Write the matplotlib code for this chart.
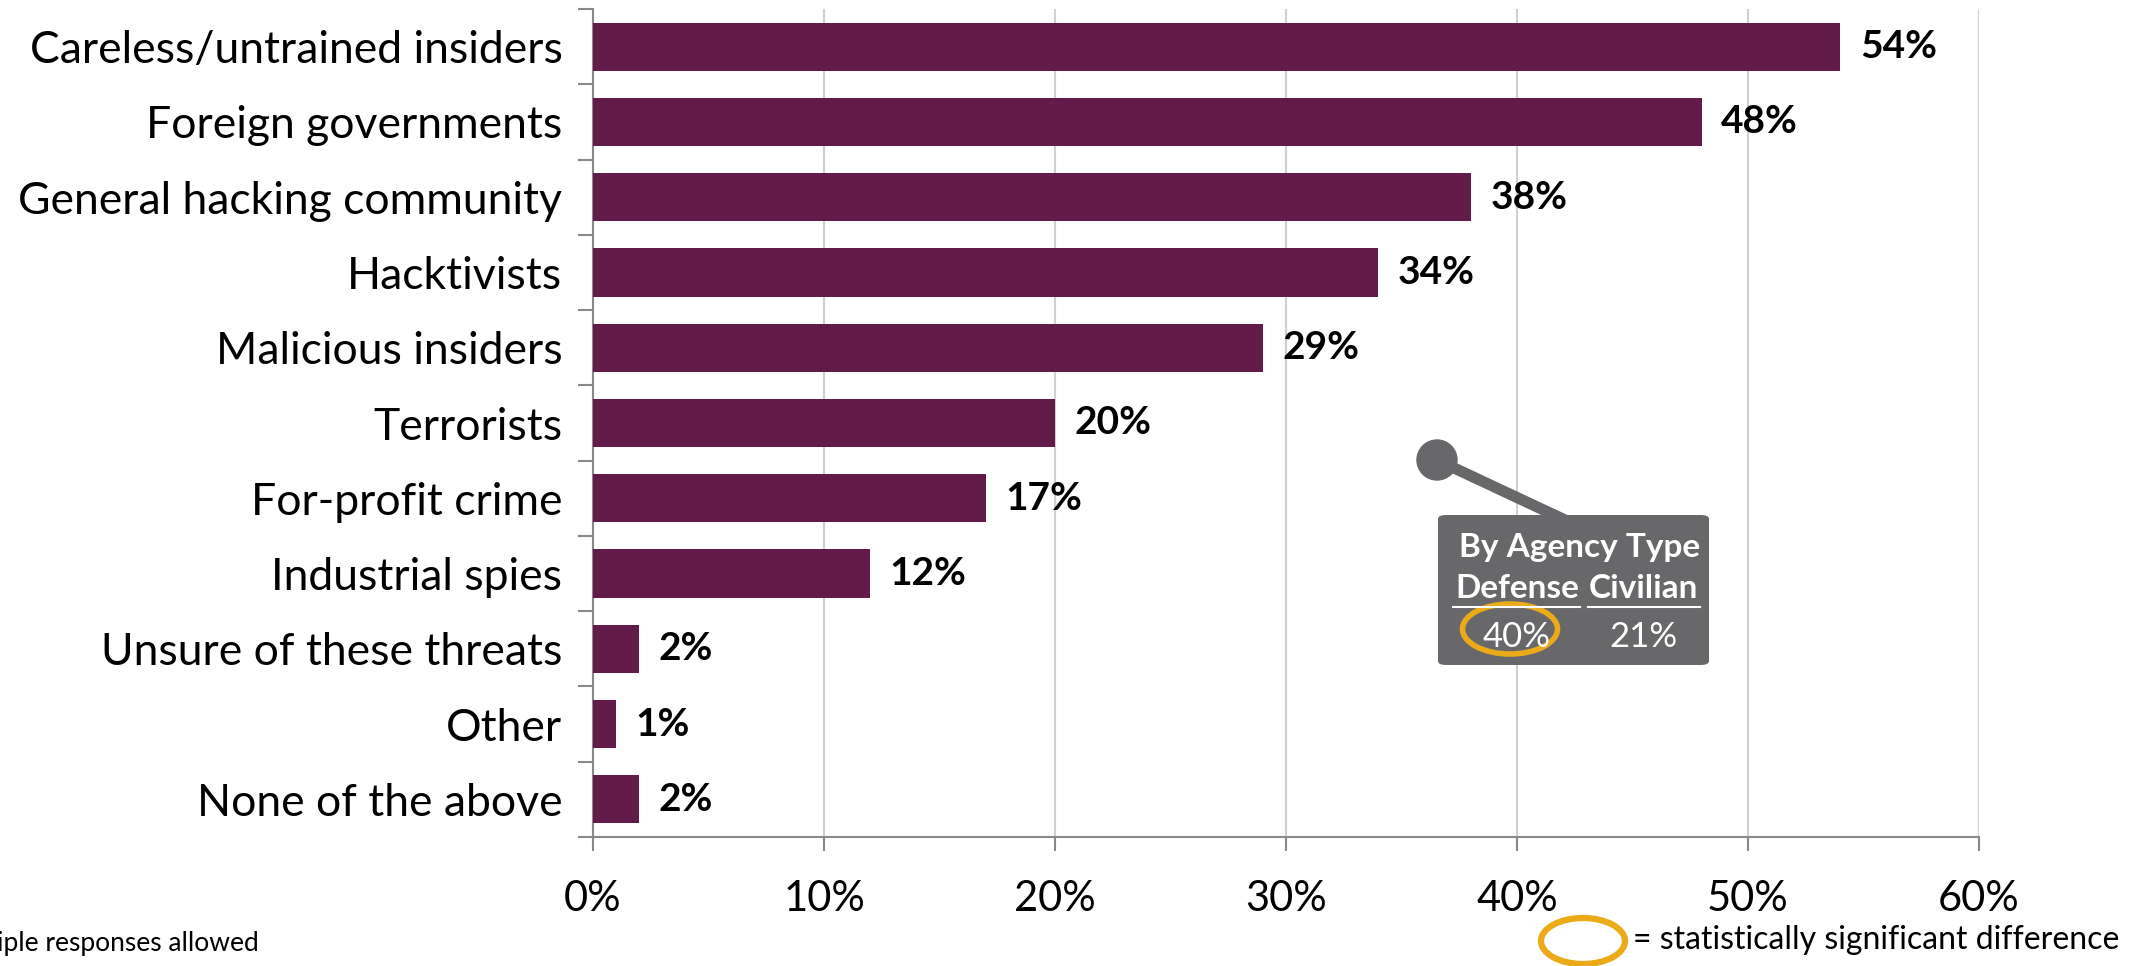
import numpy as np
import matplotlib
matplotlib.use("Agg")
import matplotlib.pyplot as plt
from matplotlib.patches import Ellipse, FancyBboxPatch
from matplotlib.lines import Line2D

plt.rcParams['font.family'] = ['Lato', 'DejaVu Sans']

categories = ["Careless/untrained insiders", "Foreign governments",
              "General hacking community", "Hacktivists", "Malicious insiders",
              "Terrorists", "For-profit crime", "Industrial spies",
              "Unsure of these threats", "Other", "None of the above"]
values = [54, 48, 38, 34, 29, 20, 17, 12, 2, 1, 2]
xticks = [0, 10, 20, 30, 40, 50, 60]

callout_title = "By Agency Type"
callout_groups = ["Defense", "Civilian"]
callout_values = ["40%", "21%"]

W, H = 2151, 966
fig = plt.figure(figsize=(W / 100, H / 100), dpi=100)
ax = fig.add_axes([593 / W, 1 - 837 / H, (1979 - 593) / W, (837 - 9) / H])

bar_color = "#621B4B"
ypos = np.arange(len(categories))
ax.barh(ypos, values, height=0.64, color=bar_color, zorder=3)
ax.set_ylim(len(categories) - 0.5, -0.5)
ax.set_xlim(0, 60)

for y, v in zip(ypos, values):
    ax.annotate(f"{v}%", (v, y), xytext=(14, 0), textcoords="offset points",
                va="center", ha="left", fontsize=28, fontweight="bold")

# y axis: ticks at category boundaries, labels at centers
ax.set_yticks(np.arange(-0.5, len(categories)), minor=False)
ax.set_yticklabels([])
ax.set_yticks(ypos, minor=True)
ax.set_yticklabels(categories, minor=True, fontsize=32)
ax.tick_params(axis="y", which="major", length=11, width=1.5, color="#898989")
ax.tick_params(axis="y", which="minor", length=0, pad=22)

ax.set_xticks(xticks)
ax.set_xticklabels([f"{t}%" for t in xticks], fontsize=30)
ax.tick_params(axis="x", length=10, width=1.5, color="#898989", pad=21)
ax.grid(axis="x", color="#D0D0D0", linewidth=1.5, zorder=0)

for s in ["top", "right"]:
    ax.spines[s].set_visible(False)
for s in ["left", "bottom"]:
    ax.spines[s].set_color("#898989")
    ax.spines[s].set_linewidth(1.5)


def fx(px):
    return px / W


def fy(py):
    return 1 - py / H


gray = "#68686B"
orange = "#EBAA17"

# callout pin and box
fig.add_artist(Line2D([fx(1437), fx(1565)], [fy(460), fy(520)], color=gray,
                      linewidth=8, transform=fig.transFigure))
fig.add_artist(Ellipse((fx(1437), fy(460)), 40 / W, 40 / H, color=gray,
                       transform=fig.transFigure))
fig.add_artist(FancyBboxPatch((fx(1438), fy(665)), (1709 - 1438) / W, (665 - 515) / H,
                              boxstyle="round,pad=0,rounding_size=0.004",
                              facecolor=gray, edgecolor="none",
                              transform=fig.transFigure))
fig.text(fx(1700), fy(548), callout_title, ha="right", va="center",
         fontsize=24, fontweight="bold", color="white")
for cx, g, v in zip([1517, 1643], callout_groups, callout_values):
    fig.text(fx(cx), fy(589), g, ha="center", va="center", fontsize=24,
             fontweight="bold", color="white")
    fig.text(fx(cx), fy(637), v, ha="center", va="center", fontsize=25,
             color="white")
fig.add_artist(Line2D([fx(1453), fx(1580)], [fy(607), fy(607)], color="white",
                      linewidth=1.5, transform=fig.transFigure))
fig.add_artist(Line2D([fx(1588), fx(1700)], [fy(607), fy(607)], color="white",
                      linewidth=1.5, transform=fig.transFigure))
fig.add_artist(Ellipse((fx(1510), fy(629)), 95 / W, 50 / H, facecolor="none",
                       edgecolor=orange, linewidth=4, transform=fig.transFigure))

# legend for the orange ring
fig.add_artist(Ellipse((fx(1583), fy(941)), 84 / W, 46 / H, facecolor="none",
                       edgecolor=orange, linewidth=4.5, transform=fig.transFigure))
fig.text(fx(1633), fy(940), "= statistically significant difference",
         ha="left", va="center", fontsize=23)

fig.text(fx(259), fy(944), "Multiple responses allowed", ha="right",
         va="center", fontsize=19)

fig.savefig("out.png", dpi=100)
